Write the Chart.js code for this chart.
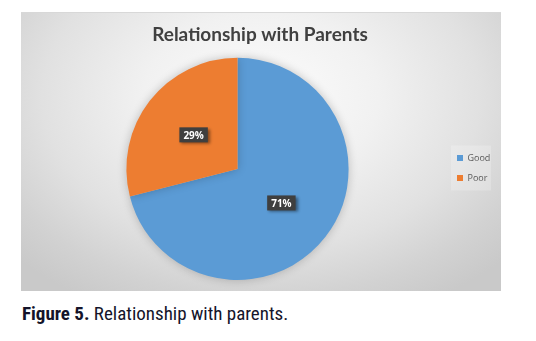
<!DOCTYPE html>
<html>
<head>
<meta charset="utf-8">
<script src="https://cdn.jsdelivr.net/npm/chart.js@4.4.1/dist/chart.umd.min.js"></script>
<style>
  body { margin: 0; background: #fff; width: 536px; height: 341px; overflow: hidden; position: relative; }
  .frame {
    position: absolute; left: 21px; top: 12px; width: 480px; height: 279px;
    background: radial-gradient(ellipse 70% 85% at 50% 30%, #fcfcfc 0%, #f1f1f1 35%, #e1e1e1 65%, #d2d2d2 85%, #c9c9c9 100%);
    border-top: 1px solid #d8d8d8;
    box-sizing: border-box;
  }
  .chart-box { position: absolute; left: 21px; top: 12px; width: 480px; height: 279px; }
  .caption {
    position: absolute; left: 22px; top: 302px;
    font-family: "Liberation Sans Narrow", "Roboto Condensed", "Liberation Sans", sans-serif;
    font-size: 19px; color: #14142a; white-space: nowrap;
  }
</style>
</head>
<body>
<div class="frame"></div>
<div class="chart-box"><canvas id="myChart"></canvas></div>
<div class="caption"><b>Figure 5.</b> Relationship with parents.</div>
<script>
const labels = ['Good', 'Poor']
const values = [71, 29]
const colors = ['#5b9bd5', '#ed7d31']

// dark boxes with the percentage, like the excel data labels
const dataLabels = {
    id: 'dataLabels',
    afterDatasetsDraw(chart) {
        const ctx = chart.ctx
        const meta = chart.getDatasetMeta(0)
        const total = values.reduce((a, b) => a + b, 0)
        meta.data.forEach((arc, i) => {
            const pos = arc.tooltipPosition()
            const text = Math.round(values[i] / total * 100) + '%'
            ctx.save()
            ctx.font = 'bold 10px "Open Sans", sans-serif'
            const w = ctx.measureText(text).width + 8
            const h = 15
            ctx.shadowColor = 'rgba(0,0,0,0.45)'
            ctx.shadowBlur = 3
            ctx.shadowOffsetX = 2
            ctx.shadowOffsetY = 2
            ctx.fillStyle = '#3f3f3f'
            ctx.fillRect(pos.x - w / 2, pos.y - h / 2, w, h)
            ctx.shadowColor = 'transparent'
            ctx.fillStyle = '#ffffff'
            ctx.textAlign = 'center'
            ctx.textBaseline = 'middle'
            ctx.fillText(text, pos.x, pos.y + 1)
            ctx.restore()
        })
    }
}

const pieShadow = {
    id: 'pieShadow',
    beforeDatasetsDraw(chart) {
        chart.ctx.save()
        chart.ctx.shadowColor = 'rgba(0,0,0,0.22)'
        chart.ctx.shadowBlur = 10
    },
    afterDatasetsDraw(chart) {
        chart.ctx.restore()
    }
}

// faint lighter panel behind the legend items
const legendBg = {
    id: 'legendBg',
    beforeDraw(chart) {
        const hb = chart.legend.legendHitBoxes
        if (!hb || !hb.length) return
        const ctx = chart.ctx
        const last = hb[hb.length - 1]
        ctx.save()
        ctx.fillStyle = 'rgba(255,255,255,0.22)'
        ctx.fillRect(hb[0].left - 6, hb[0].top - 8, 40, last.top + last.height - hb[0].top + 16)
        ctx.restore()
    }
}

new Chart(document.getElementById('myChart'), {
    type: 'pie',
    data: {
        labels: labels,
        datasets: [{
            data: values,
            backgroundColor: colors,
            borderWidth: 0
        }]
    },
    options: {
        responsive: true,
        maintainAspectRatio: false,
        animation: false,
        layout: { padding: { left: 8, right: 10, top: 2, bottom: 11 } },
        plugins: {
            title: {
                display: true,
                text: 'Relationship with Parents',
                color: '#404040',
                font: { family: 'Lato', size: 19, weight: 'bold' },
                padding: { top: 9, bottom: 12 }
            },
            legend: {
                position: 'right',
                maxWidth: 45,
                title: { display: true, text: ' ', font: { size: 10 }, padding: { top: 15, bottom: 15 } },
                labels: {
                    boxWidth: 6,
                    boxHeight: 6,
                    padding: 11,
                    color: '#595959',
                    font: { family: '"Open Sans", sans-serif', size: 9 }
                }
            },
            tooltip: { enabled: false }
        }
    },
    plugins: [pieShadow, dataLabels, legendBg]
})
</script>
</body>
</html>
